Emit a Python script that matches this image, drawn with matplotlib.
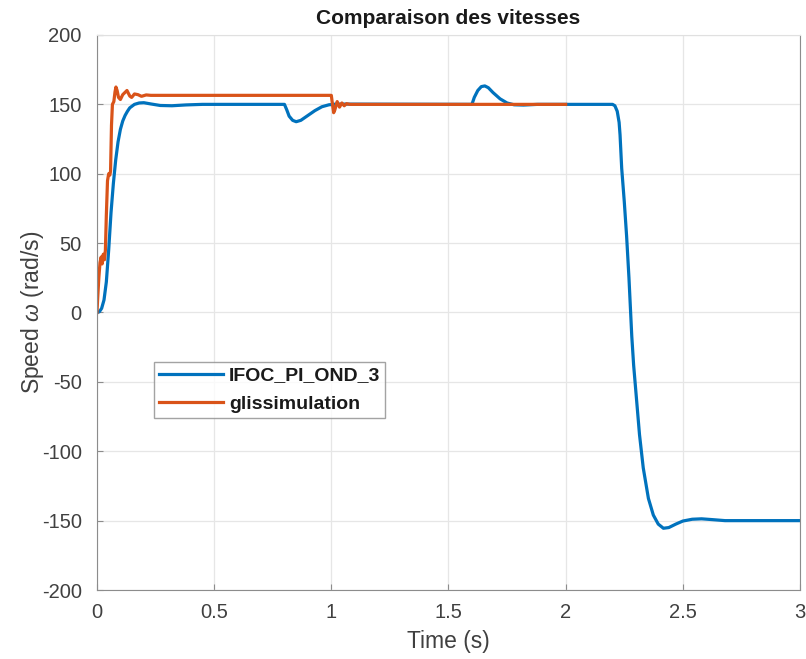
"""Speed comparison: IFOC_PI_OND_3 vs glissimulation."""

import matplotlib
matplotlib.use('Agg')
import matplotlib.pyplot as plt

plt.rcParams['font.family'] = ['Liberation Sans', 'DejaVu Sans']
plt.rcParams['mathtext.fontset'] = 'custom'
plt.rcParams['mathtext.it'] = 'Liberation Sans:italic'
plt.rcParams['axes.unicode_minus'] = False

# IFOC_PI_OND_3 speed (rad/s)
t_ifoc = [0, 0.01, 0.02, 0.03, 0.04, 0.05, 0.06, 0.07, 0.08, 0.09, 0.10,
          0.11, 0.12, 0.13, 0.14, 0.16, 0.18, 0.20, 0.23, 0.27, 0.32, 0.38,
          0.45, 0.80, 0.81, 0.82, 0.835, 0.85, 0.87, 0.90, 0.93, 0.96, 0.99,
          1.02, 1.60, 1.61, 1.625, 1.64, 1.655, 1.67, 1.69, 1.72, 1.75, 1.78,
          1.82, 1.88, 2.20, 2.21, 2.22, 2.228, 2.232, 2.239, 2.25, 2.26,
          2.27, 2.282, 2.29, 2.303, 2.315, 2.331, 2.353, 2.374, 2.395, 2.417,
          2.44, 2.47, 2.50, 2.54, 2.58, 2.62, 2.68, 3.00]
w_ifoc = [0, 0.5, 3, 9, 22, 45, 72, 93, 110, 123, 132,
          138, 142, 145, 147.5, 150, 151, 151.2, 150.3, 149.2, 149, 149.6,
          150, 150, 146, 141.5, 138.5, 137.5, 138.5, 142, 145.5, 148.3, 149.7,
          150.2, 150, 155, 160, 162.8, 163.3, 162, 158.5, 154, 151, 149.7,
          149.5, 150, 150, 149, 145, 137, 128, 104, 80, 55,
          25, -17, -38, -64, -88, -112, -134, -146, -152.5, -155.5,
          -155, -152.5, -150.3, -149, -148.7, -149.2, -150, -150]

# glissimulation speed (rad/s)
t_gliss = [0, 0.003, 0.008, 0.013, 0.018, 0.022, 0.027, 0.032, 0.036, 0.04,
           0.045, 0.05, 0.055, 0.058, 0.062, 0.066, 0.072, 0.077, 0.081,
           0.086, 0.092, 0.10, 0.11, 0.128, 0.14, 0.148, 0.16, 0.175, 0.19,
           0.21, 0.23, 1.00, 1.005, 1.01, 1.015, 1.025, 1.035, 1.045, 1.055,
           1.065, 1.08, 2.00]
w_gliss = [0, 10, 25, 36, 40, 35, 42, 38, 45, 70,
           95, 100, 99, 102, 135, 150, 152, 159, 162.5,
           160, 155, 153.5, 157, 160, 156, 155, 157.5, 157, 155.8,
           156.8, 156.5, 156.5, 150, 144, 146, 152, 148, 151, 149,
           150.5, 150, 150]

text_color = '#404040'

fig = plt.figure(figsize=(8.06, 6.59), dpi=100)
ax = fig.add_axes([0.1203, 0.1047, 0.8723, 0.8422])

ax.plot(t_ifoc, w_ifoc, color='#0072BD', lw=2.3, label='IFOC_PI_OND_3')
ax.plot(t_gliss, w_gliss, color='#D95319', lw=2.3, label='glissimulation')

ax.set_xlim(0, 3)
ax.set_ylim(-200, 200)
ax.set_xticks([0, 0.5, 1, 1.5, 2, 2.5, 3])
ax.set_xticklabels(['0', '0.5', '1', '1.5', '2', '2.5', '3'])
ax.set_yticks(range(-200, 201, 50))
ax.grid(True, color='#e6e6e6', lw=0.9)
ax.set_axisbelow(True)

for side in ['left', 'bottom', 'right']:
    ax.spines[side].set_color('#8c8c8c')
ax.spines['top'].set_color('#e0e0e0')
ax.tick_params(direction='in', length=4, colors='#8c8c8c',
               labelcolor=text_color, labelsize=14.5)
ax.tick_params(axis='x', pad=9)
ax.tick_params(axis='y', pad=11)

ax.set_title('Comparaison des vitesses', fontsize=15, fontweight='bold',
             color='#1a1a1a', pad=8)
ax.set_xlabel('Time (s)', fontsize=16.5, color=text_color, labelpad=6)
ax.set_ylabel(r'Speed $\omega$ (rad/s)', fontsize=16.5, color=text_color,
              labelpad=-3)

leg = ax.legend(loc='upper left', bbox_to_anchor=(0.081, 0.411),
                borderaxespad=0, fontsize=14, frameon=True, fancybox=False,
                handlelength=3.3, borderpad=0.25, labelspacing=0.55,
                handletextpad=0.3)
leg.get_frame().set_edgecolor('#8c8c8c')
leg.get_frame().set_linewidth(1)
for txt in leg.get_texts():
    txt.set_fontweight('semibold')
    txt.set_color('#1a1a1a')

fig.savefig('out.png', dpi=100)
